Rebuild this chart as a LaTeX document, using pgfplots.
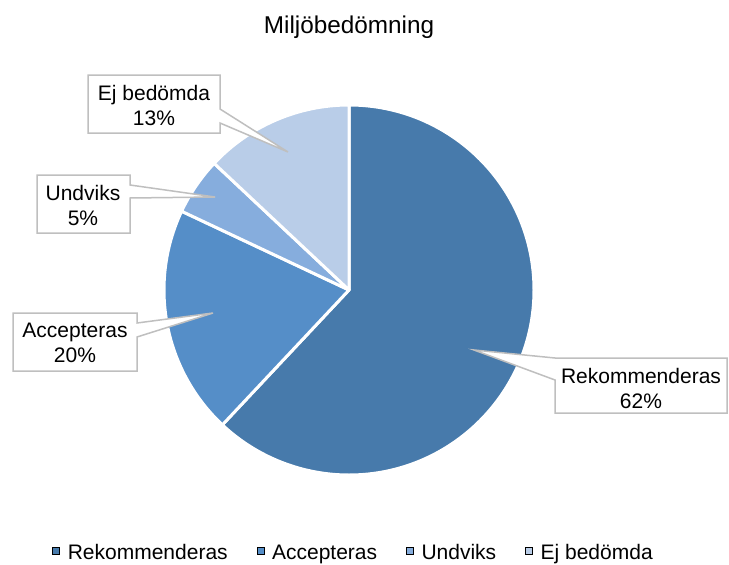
\documentclass[border=0pt]{standalone}
\usepackage{pgfplots}
\pgfplotsset{compat=1.18}
\usepackage{fontspec}
\setmainfont{Liberation Sans}

\definecolor{rek}{HTML}{477AAB}
\definecolor{acc}{HTML}{558EC8}
\definecolor{und}{HTML}{86ADDD}
\definecolor{ejb}{HTML}{B9CDE8}
\definecolor{boxgray}{HTML}{BFBFBF}

% shares in percent
\def\vRek{62}
\def\vAcc{20}
\def\vUnd{5}
\def\vEjb{13}
\pgfmathsetmacro\aA{90-3.6*\vRek}
\pgfmathsetmacro\aB{\aA-3.6*\vAcc}
\pgfmathsetmacro\aC{\aB-3.6*\vUnd}
\pgfmathsetmacro\aD{\aC-3.6*\vEjb}

\begin{document}
\begin{tikzpicture}
\begin{axis}[
  name=ax,
  scale only axis,
  width=729pt, height=565pt,
  xmin=0, xmax=729, ymin=0, ymax=565,
  y dir=reverse,
  axis lines=none,
  ticks=none,
  clip=false,
  legend columns=4,
  legend style={at={(0.485,0.022)}, anchor=center, draw=none, fill=none,
    font=\fontsize{21}{24}\selectfont,
    /tikz/every even column/.append style={column sep=27pt}},
  legend image code/.code={\fill[#1] (0pt,-2pt) rectangle (7pt,5pt); \path (13pt,0pt);},
]
  \addlegendimage{fill=rek}
  \addlegendentry{Rekommenderas}
  \addlegendimage{fill=acc}
  \addlegendentry{Accepteras}
  \addlegendimage{fill=und}
  \addlegendentry{Undviks}
  \addlegendimage{fill=ejb}
  \addlegendentry{Ej bedömda}

  \filldraw[fill=rek, draw=white, line width=3pt, line join=round] (axis cs:349,290) -- ++(90:185pt) arc[start angle=90, end angle=\aA, radius=185pt] -- cycle;
  \filldraw[fill=acc, draw=white, line width=3pt, line join=round] (axis cs:349,290) -- ++(\aA:185pt) arc[start angle=\aA, end angle=\aB, radius=185pt] -- cycle;
  \filldraw[fill=und, draw=white, line width=3pt, line join=round] (axis cs:349,290) -- ++(\aB:185pt) arc[start angle=\aB, end angle=\aC, radius=185pt] -- cycle;
  \filldraw[fill=ejb, draw=white, line width=3pt, line join=round] (axis cs:349,290) -- ++(\aC:185pt) arc[start angle=\aC, end angle=\aD, radius=185pt] -- cycle;

  \node[font=\fontsize{24.3}{28}\selectfont] at (axis cs:349,27) {Miljöbedömning};

  % callouts
  \filldraw[fill=white, draw=boxgray, line width=1.5pt]
    (axis cs:88,75) -- (axis cs:220,75) -- (axis cs:220,109) -- (axis cs:288,152) -- (axis cs:220,123) -- (axis cs:220,133) -- (axis cs:88,133) -- cycle;
  \filldraw[fill=white, draw=boxgray, line width=1.5pt]
    (axis cs:37,175) -- (axis cs:130,175) -- (axis cs:130,185) -- (axis cs:215,197) -- (axis cs:130,198) -- (axis cs:130,233) -- (axis cs:37,233) -- cycle;
  \filldraw[fill=white, draw=boxgray, line width=1.5pt]
    (axis cs:13,313) -- (axis cs:137,313) -- (axis cs:137,323) -- (axis cs:213,313) -- (axis cs:137,337) -- (axis cs:137,371) -- (axis cs:13,371) -- cycle;
  \filldraw[fill=white, draw=boxgray, line width=1.5pt]
    (axis cs:555,358) -- (axis cs:474,350) -- (axis cs:555,380) -- (axis cs:555,413) -- (axis cs:727,413) -- (axis cs:727,358) -- cycle;

  \node[font=\fontsize{21}{25}\selectfont, align=center] at (axis cs:154,105) {Ej bedömda\\13\%};
  \node[font=\fontsize{21}{25}\selectfont, align=center] at (axis cs:83,205) {Undviks\\5\%};
  \node[font=\fontsize{21}{25}\selectfont, align=center] at (axis cs:75,343) {Accepteras\\20\%};
  \node[font=\fontsize{21}{25}\selectfont, align=center] at (axis cs:641,388) {Rekommenderas\\62\%};
\end{axis}
\pgfresetboundingbox
\path (ax.south west) rectangle (ax.north east);
\end{tikzpicture}
\end{document}
